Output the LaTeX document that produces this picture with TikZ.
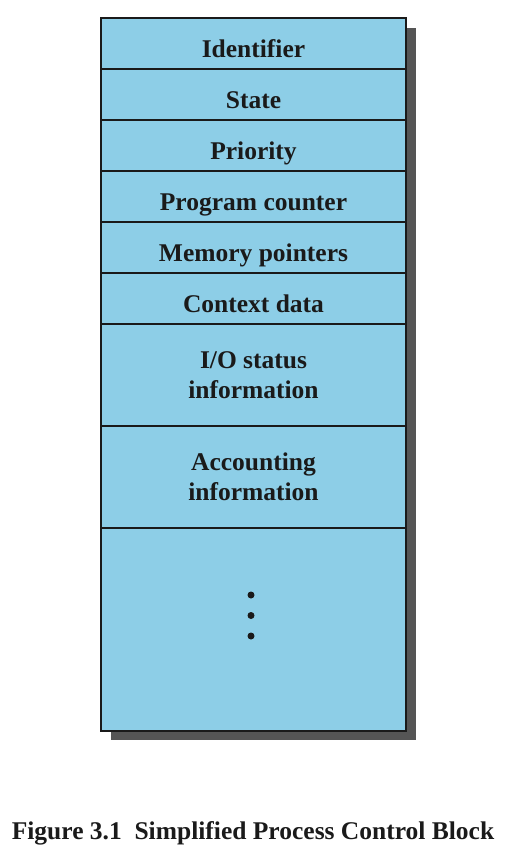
\documentclass[tikz,border=0pt]{standalone}
\usepackage{fontspec}
\setmainfont{Liberation Serif}
\usepackage{xcolor}
\usepackage{tikz}
\usetikzlibrary{positioning}
\definecolor{pcbblue}{RGB}{141,206,231}
\definecolor{pcbshadow}{RGB}{85,85,85}
\definecolor{pcbtext}{RGB}{26,26,26}

\begin{document}
\begin{tikzpicture}[x=1pt,y=-1pt,
    field/.style={draw=pcbtext,line width=2pt,fill=pcbblue,minimum width=305pt,inner sep=0pt,outer sep=0pt,anchor=north,font=\bfseries\fontsize{25.5}{30}\selectfont,text=pcbtext},
    oneline/.style={field,minimum height=51pt,text height=28pt,text depth=0pt},
    twoline/.style={field,minimum height=102pt,align=center}]
        \useasboundingbox (0,0) rectangle (504,860);
        \fill[pcbshadow] (111,28) rectangle (416,740);
        \node[oneline] (ident) at (253.5,18) {Identifier};
        \node[oneline,below=0pt of ident] (state) {State};
        \node[oneline,below=0pt of state] (prio) {Priority};
        \node[oneline,below=0pt of prio] (pc) {Program counter};
        \node[oneline,below=0pt of pc] (mem) {Memory pointers};
        \node[oneline,below=0pt of mem] (ctx) {Context data};
        \node[twoline,below=0pt of ctx] (io) {I/O status\\information};
        \node[twoline,below=0pt of io] (acct) {Accounting\\information};
        \node[field,minimum height=203pt,below=0pt of acct] (rest) {};
        \foreach \y in {595,615.5,636}
            \fill[pcbtext] (251,\y) circle (3.5pt);
        \node[font=\bfseries\fontsize{25.5}{30}\selectfont,text=pcbtext,anchor=base] (caption) at (253,839) {Figure 3.1\ \ Simplified Process Control Block};
\end{tikzpicture}
\end{document}
